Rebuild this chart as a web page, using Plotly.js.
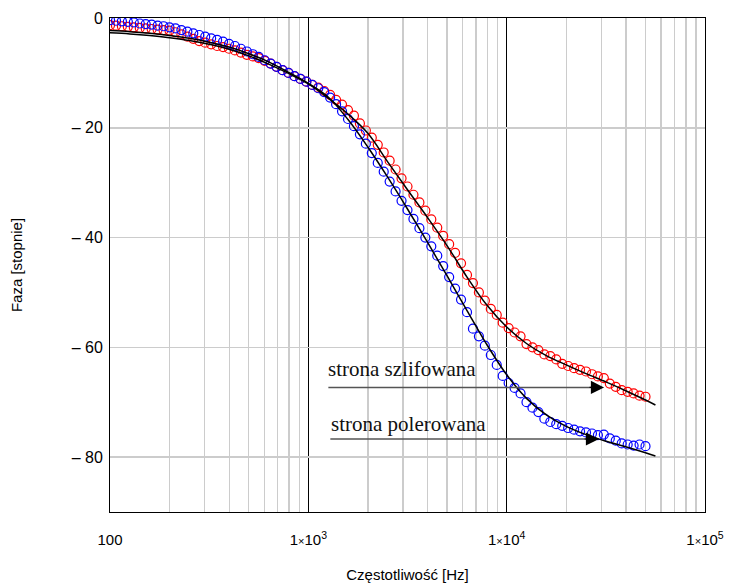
<!DOCTYPE html>
<html>
<head>
<meta charset="utf-8">
<script src="https://cdn.plot.ly/plotly-3.0.1.min.js"></script>
<style>html,body{margin:0;padding:0;background:#fff;}#chart{width:732px;height:586px;}</style>
</head>
<body>
<div id="chart"></div>
<script>
// Measured frequencies [Hz]
const freq = [100, 107.2, 114.8, 123.0, 131.8, 141.3, 151.4, 162.2, 173.8, 186.2,
  199.5, 213.8, 229.1, 245.5, 263.0, 281.8, 302.0, 323.6, 346.7, 371.5,
  398.1, 426.6, 457.1, 489.8, 524.8, 562.3, 602.6, 645.7, 691.8, 741.3,
  794.3, 851.1, 912.0, 977.2, 1047, 1122, 1202, 1288, 1380, 1479,
  1585, 1698, 1820, 1950, 2089, 2239, 2399, 2570, 2754, 2951,
  3162, 3388, 3631, 3890, 4169, 4467, 4786, 5129, 5495, 5888,
  6310, 6761, 7244, 7762, 8318, 8913, 9550, 10233, 10965, 11749,
  12589, 13490, 14454, 15488, 16596, 17783, 19055, 20417, 21878, 23442,
  25119, 26915, 28840, 30903, 33113, 35481, 38019, 40738, 43652, 46774,
  50119];

// strona szlifowana (red circles)
const phaseRed = [-1.3, -1.4, -1.5, -1.6, -1.7, -1.8, -1.9, -2.0, -2.1, -2.2,
  -2.3, -2.6, -3.0, -3.4, -3.8, -4.2, -4.5, -4.8, -5.1, -5.3,
  -5.6, -5.9, -6.3, -6.7, -7.0, -7.3, -7.8, -8.3, -8.9, -9.5,
  -10.0, -10.6, -11.1, -11.6, -12.2, -12.7, -13.3, -14.0, -14.9, -15.8,
  -16.8, -17.8, -19.2, -20.5, -21.8, -23.1, -24.5, -26.0, -27.6, -29.2,
  -30.7, -32.2, -33.6, -35.1, -36.7, -38.2, -39.7, -41.2, -42.8, -44.7,
  -46.8, -48.3, -50.0, -51.5, -53.0, -54.1, -55.5, -56.5, -57.3, -58.0,
  -59.4, -60.0, -60.5, -61.3, -61.6, -62.2, -63.0, -63.4, -63.8, -64.1,
  -64.4, -64.9, -65.3, -65.6, -66.6, -67.2, -67.8, -68.1, -68.4, -68.8,
  -69.0];

// strona polerowana (blue circles)
const phaseBlue = [-0.4, -0.5, -0.6, -0.7, -0.8, -1.0, -1.1, -1.2, -1.4, -1.5,
  -1.7, -1.9, -2.2, -2.5, -2.8, -3.1, -3.4, -3.7, -4.0, -4.3,
  -4.7, -5.1, -5.6, -6.1, -6.6, -7.1, -7.7, -8.3, -8.9, -9.5,
  -10.0, -10.6, -11.1, -11.6, -12.2, -12.8, -13.5, -14.5, -15.7, -17.0,
  -18.4, -19.7, -21.2, -22.9, -24.6, -26.4, -28.0, -29.8, -31.6, -33.3,
  -35.0, -36.6, -38.3, -40.0, -41.6, -43.3, -45.2, -47.2, -49.3, -51.3,
  -53.6, -56.6, -58.0, -59.7, -61.4, -63.2, -65.2, -66.5, -67.4, -68.4,
  -70.0, -71.0, -71.8, -73.0, -73.6, -74.0, -74.3, -74.7, -75.0, -75.3,
  -75.5, -75.7, -76.0, -75.9, -76.6, -77.0, -77.5, -77.7, -77.9, -77.7,
  -78.0];

// Fitted model curves (black lines)
const fitFreq = [100, 125.9, 158.5, 199.5, 251.2, 316.2, 398.1, 501.2, 631.0, 794.3,
  1000, 1259, 1585, 1995, 2512, 3162, 3981, 5012, 6310, 7943,
  10000, 12589, 15849, 19953, 25119, 31623, 39811, 50119, 56234];
const fitRed = [-2.7, -2.9, -3.2, -3.6, -4.1, -4.8, -5.7, -6.9, -8.4, -10.1,
  -12.0, -14.6, -17.5, -21.0, -26.2, -31.3, -36.3, -41.5, -47.2, -52.3,
  -56.3, -59.3, -61.5, -63.2, -64.8, -66.3, -67.9, -69.6, -70.5];
const fitBlue = [-2.3, -2.5, -2.8, -3.2, -3.7, -4.4, -5.3, -6.5, -8.0, -9.9,
  -11.9, -14.4, -18.5, -23.5, -29.0, -34.8, -40.8, -47.0, -53.3, -59.5,
  -65.0, -69.3, -72.3, -74.4, -75.9, -77.1, -78.1, -79.2, -79.8];

// Axis ticks
const xTickVals = [100, 1000, 10000, 100000];
const xTickText = ['100',
  '1<span style="font-size:11px">×</span>10<sup>3</sup>',
  '1<span style="font-size:11px">×</span>10<sup>4</sup>',
  '1<span style="font-size:11px">×</span>10<sup>5</sup>'];
const xMinorVals = [200, 300, 400, 500, 600, 700, 800, 900,
  2000, 3000, 4000, 5000, 6000, 7000, 8000, 9000,
  20000, 30000, 40000, 50000, 60000, 70000, 80000, 90000];
const yTickVals = [0, -20, -40, -60, -80];
const yTickText = ['0', '– 20', '– 40', '– 60', '– 80'];

const labels = ['strona szlifowana', 'strona polerowana'];

const traces = [
  {x: freq, y: phaseRed, type: 'scatter', mode: 'markers', name: labels[0],
   marker: {symbol: 'circle-open', size: 9, color: '#ff0000', line: {width: 1.2}}},
  {x: freq, y: phaseBlue, type: 'scatter', mode: 'markers', name: labels[1],
   marker: {symbol: 'circle-open', size: 9, color: '#0000ff', line: {width: 1.2}}},
  {x: fitFreq, y: fitRed, type: 'scatter', mode: 'lines', line: {color: '#000', width: 1.5, shape: 'spline'}},
  {x: fitFreq, y: fitBlue, type: 'scatter', mode: 'lines', line: {color: '#000', width: 1.5, shape: 'spline'}}
];

// helper: position of a log10 value in paper units of the x range [2,5]
function px(logv) { return (logv - 2) / 3; }

const font = 'Liberation Sans, Arial, sans-serif';
const serif = 'Liberation Serif, Times New Roman, serif';
const layout = {
  width: 732, height: 586,
  margin: {l: 110, r: 27, t: 18, b: 74},
  paper_bgcolor: '#fff', plot_bgcolor: '#fff',
  showlegend: false,
  font: {family: font, size: 15, color: '#000'},
  xaxis: {
    type: 'log', range: [2, 5],
    tickvals: xTickVals, ticktext: xTickText,
    ticks: '', ticklabelstandoff: 14,
    showgrid: true, gridcolor: '#000', gridwidth: 1.2,
    minor: {tickvals: xMinorVals, showgrid: true, gridcolor: '#cccccc', gridwidth: 1.5, ticks: ''},
    showline: true, linecolor: '#000', linewidth: 1, mirror: true,
    zeroline: false,
    tickfont: {family: font, size: 15},
    title: {text: 'Częstotliwość [Hz]', font: {family: font, size: 15}, standoff: 22}
  },
  yaxis: {
    range: [-90, 0],
    tickvals: yTickVals, ticktext: yTickText,
    ticks: '', ticklabelstandoff: 3,
    showgrid: true, gridcolor: '#cccccc', gridwidth: 1.5,
    showline: true, linecolor: '#000', linewidth: 1, mirror: true,
    zeroline: false,
    tickfont: {family: font, size: 16},
    title: {text: 'Faza [stopnie]', font: {family: font, size: 15}, standoff: 45}
  },
  shapes: [
    {type: 'line', xref: 'paper', yref: 'y', x0: px(3.101), x1: px(4.47), y0: -67.3, y1: -67.3, line: {color: '#555', width: 1.5}, layer: 'above'},
    {type: 'line', xref: 'paper', yref: 'y', x0: px(3.111), x1: px(4.44), y0: -76.7, y1: -76.7, line: {color: '#555', width: 1.5}, layer: 'above'}
  ],
  annotations: [
    {x: px(3.088), y: -63.9, xref: 'paper', yref: 'y', text: labels[0], showarrow: false,
     xanchor: 'left', yanchor: 'middle', font: {family: serif, size: 21, color: '#111'}},
    {x: px(3.103), y: -73.9, xref: 'paper', yref: 'y', text: labels[1], showarrow: false,
     xanchor: 'left', yanchor: 'middle', font: {family: serif, size: 21, color: '#111'}},
    {x: px(4.491), y: -67.3, xref: 'paper', yref: 'y', text: '', showarrow: true, ax: -16, ay: 0,
     arrowhead: 2, arrowsize: 2.2, arrowwidth: 1.2, arrowcolor: '#000', standoff: 0},
    {x: px(4.466), y: -76.7, xref: 'paper', yref: 'y', text: '', showarrow: true, ax: -16, ay: 0,
     arrowhead: 2, arrowsize: 2.2, arrowwidth: 1.2, arrowcolor: '#000', standoff: 0}
  ]
};

Plotly.newPlot('chart', traces, layout, {displayModeBar: false, staticPlot: true});
</script>
</body>
</html>
